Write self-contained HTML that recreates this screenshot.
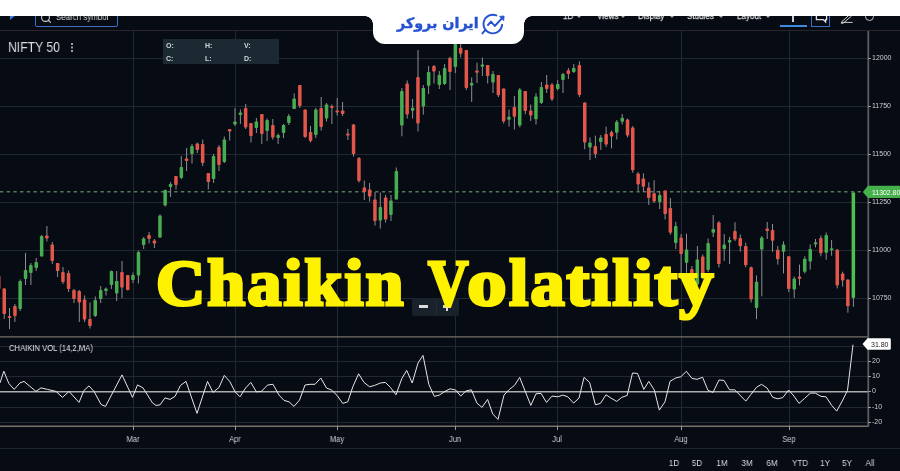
<!DOCTYPE html>
<html lang="en">
<head>
<meta charset="utf-8">
<title>Chaikin Volatility</title>
<style>
html,body{margin:0;padding:0;}
body{width:900px;height:471px;overflow:hidden;background:#070b14;position:relative;font-family:"Liberation Sans",sans-serif;color:#d6d6d6;}
.chart{position:absolute;left:0;top:0;display:block;}
.abs{position:absolute;white-space:nowrap;}
.ax,.mon,.rng,.sym,.tb,.ohlc,.gs,.logo{will-change:transform;}
.topwhite{position:absolute;left:0;top:0;width:900px;height:16px;background:#fff;}
.toolbar{position:absolute;left:0;top:16px;width:900px;height:13.6px;border-bottom:1px solid #2a2529;overflow:hidden;}
.tab{position:absolute;left:373px;top:0;width:150.6px;height:44px;background:#fff;border-radius:0 0 12px 12px;}
.tabc{position:absolute;top:16px;width:8px;height:8px;background:radial-gradient(circle at var(--cx) 100%, #070b14 7.5px, #fff 8px);}
.logo{position:absolute;left:396.6px;top:12px;font-family:"DejaVu Sans","Liberation Sans",sans-serif;font-weight:bold;font-size:14.3px;color:#2552d0;-webkit-text-stroke:0.4px #2552d0;direction:rtl;line-height:22px;letter-spacing:0;}
.sym{left:8.2px;top:39px;font-size:14.3px;color:#dcdcdc;line-height:16px;transform:scaleX(0.853);transform-origin:0 0;}
.ohlc{position:absolute;left:163px;top:39px;width:116px;height:24.5px;background:#1a2932;}
.ohlc span{position:absolute;font-size:7px;font-weight:bold;color:#cfd6da;line-height:8px;}
.ax{font-size:7px;color:#cfcfcf;line-height:9px;left:871.8px;}
.mon{font-size:8.8px;color:#cfcfcf;line-height:10px;transform:translateX(-50%) scaleX(0.85);top:433.8px;}
.rng{font-size:9.3px;color:#d8d8d8;line-height:11px;transform:translateX(-50%) scaleX(0.86);top:457.6px;}
.ttl{position:absolute;left:158px;top:246.6px;font-family:"Liberation Serif",serif;font-weight:bold;font-size:65.5px;line-height:72px;color:#fff200;white-space:nowrap;-webkit-text-stroke:3.1px #fff200;letter-spacing:2px;transform-origin:0 0;}
.tb{position:absolute;font-size:9px;color:#dedede;line-height:10px;top:-5px;white-space:nowrap;}.tbs{font-size:9.4px;-webkit-text-stroke:0.25px #dedede;transform:scaleX(0.86);transform-origin:0 0;}.car{position:absolute;top:0.2px;width:0;height:0;border-left:2px solid transparent;border-right:2px solid transparent;border-top:2.4px solid #aaa;}
</style>
</head>
<body>
<svg class="chart" width="900" height="471" viewBox="0 0 900 471">
<g stroke="#1f2833" stroke-width="1" shape-rendering="crispEdges">
<line x1="0" y1="58.5" x2="868" y2="58.5"/>
<line x1="0" y1="106.5" x2="868" y2="106.5"/>
<line x1="0" y1="154.5" x2="868" y2="154.5"/>
<line x1="0" y1="202.5" x2="868" y2="202.5"/>
<line x1="0" y1="250.5" x2="868" y2="250.5"/>
<line x1="0" y1="298.5" x2="868" y2="298.5"/>
<line x1="133.5" y1="30" x2="133.5" y2="427"/>
<line x1="235.5" y1="30" x2="235.5" y2="427"/>
<line x1="337.5" y1="30" x2="337.5" y2="427"/>
<line x1="455.5" y1="30" x2="455.5" y2="427"/>
<line x1="557.5" y1="30" x2="557.5" y2="427"/>
<line x1="681.5" y1="30" x2="681.5" y2="427"/>
<line x1="789.5" y1="30" x2="789.5" y2="427"/>
<line x1="0" y1="346.5" x2="868" y2="346.5"/>
<line x1="0" y1="361.5" x2="868" y2="361.5"/>
<line x1="0" y1="376.5" x2="868" y2="376.5"/>
<line x1="0" y1="407.5" x2="868" y2="407.5"/>
<line x1="0" y1="422.5" x2="868" y2="422.5"/>
</g>
<line x1="0" y1="191.7" x2="864" y2="191.7" stroke="#547a58" stroke-width="1.6" stroke-dasharray="3.3 3.4"/>
<g stroke="#8e8e8e" stroke-width="1">
<line x1="-1.2" y1="276" x2="-1.2" y2="289"/>
<line x1="4.2" y1="288" x2="4.2" y2="319"/>
<line x1="9.5" y1="308" x2="9.5" y2="329"/>
<line x1="14.9" y1="304" x2="14.9" y2="322"/>
<line x1="20.2" y1="279.5" x2="20.2" y2="311"/>
<line x1="25.5" y1="253" x2="25.5" y2="285"/>
<line x1="30.9" y1="263" x2="30.9" y2="285"/>
<line x1="36.2" y1="258" x2="36.2" y2="271"/>
<line x1="41.6" y1="235" x2="41.6" y2="256.5"/>
<line x1="46.9" y1="226" x2="46.9" y2="241.5"/>
<line x1="52.3" y1="242" x2="52.3" y2="264"/>
<line x1="57.6" y1="263" x2="57.6" y2="277"/>
<line x1="63" y1="267" x2="63" y2="284"/>
<line x1="68.6" y1="270.5" x2="68.6" y2="292"/>
<line x1="74" y1="289" x2="74" y2="303"/>
<line x1="79.3" y1="290" x2="79.3" y2="322"/>
<line x1="84.6" y1="295.5" x2="84.6" y2="322"/>
<line x1="90" y1="302.5" x2="90" y2="328.5"/>
<line x1="95.3" y1="296.5" x2="95.3" y2="317"/>
<line x1="100.7" y1="286" x2="100.7" y2="303"/>
<line x1="106" y1="287.5" x2="106" y2="295.5"/>
<line x1="111.4" y1="270.5" x2="111.4" y2="289"/>
<line x1="116.7" y1="271" x2="116.7" y2="301"/>
<line x1="122" y1="261" x2="122" y2="298"/>
<line x1="127.7" y1="275" x2="127.7" y2="290.5"/>
<line x1="133" y1="272.5" x2="133" y2="283"/>
<line x1="138.4" y1="250.5" x2="138.4" y2="283.5"/>
<line x1="143.7" y1="237" x2="143.7" y2="249"/>
<line x1="149.1" y1="232" x2="149.1" y2="243.5"/>
<line x1="154.4" y1="239" x2="154.4" y2="248"/>
<line x1="160" y1="214.5" x2="160" y2="238"/>
<line x1="165.2" y1="189.5" x2="165.2" y2="206.5"/>
<line x1="170.6" y1="182" x2="170.6" y2="197"/>
<line x1="176" y1="176" x2="176" y2="189.5"/>
<line x1="181.3" y1="156" x2="181.3" y2="179"/>
<line x1="186.6" y1="148" x2="186.6" y2="171"/>
<line x1="192" y1="144" x2="192" y2="163.5"/>
<line x1="197.3" y1="142.5" x2="197.3" y2="153"/>
<line x1="202.7" y1="139.5" x2="202.7" y2="166"/>
<line x1="208.3" y1="173" x2="208.3" y2="189.5"/>
<line x1="213.6" y1="154" x2="213.6" y2="183"/>
<line x1="219" y1="145" x2="219" y2="171"/>
<line x1="224.3" y1="136.5" x2="224.3" y2="163"/>
<line x1="229.7" y1="129" x2="229.7" y2="140.5"/>
<line x1="235" y1="108" x2="235" y2="126"/>
<line x1="240.4" y1="109.5" x2="240.4" y2="124"/>
<line x1="245.7" y1="104" x2="245.7" y2="129"/>
<line x1="251" y1="123" x2="251" y2="142.5"/>
<line x1="256.4" y1="118" x2="256.4" y2="133"/>
<line x1="261.8" y1="114" x2="261.8" y2="144"/>
<line x1="267.1" y1="118.5" x2="267.1" y2="141"/>
<line x1="272.8" y1="119" x2="272.8" y2="139.5"/>
<line x1="278.1" y1="133.5" x2="278.1" y2="144"/>
<line x1="283.5" y1="124" x2="283.5" y2="138"/>
<line x1="288.8" y1="114" x2="288.8" y2="125"/>
<line x1="294.2" y1="93.5" x2="294.2" y2="109"/>
<line x1="299.8" y1="85" x2="299.8" y2="108"/>
<line x1="305.1" y1="109.5" x2="305.1" y2="138"/>
<line x1="310.5" y1="126" x2="310.5" y2="142.5"/>
<line x1="315.8" y1="108" x2="315.8" y2="138"/>
<line x1="321.2" y1="97" x2="321.2" y2="130.5"/>
<line x1="326.5" y1="103" x2="326.5" y2="121.5"/>
<line x1="331.9" y1="104.5" x2="331.9" y2="124"/>
<line x1="337.2" y1="98" x2="337.2" y2="115.5"/>
<line x1="342.6" y1="102" x2="342.6" y2="116"/>
<line x1="347.9" y1="129" x2="347.9" y2="140"/>
<line x1="353.5" y1="124" x2="353.5" y2="156.5"/>
<line x1="359" y1="157" x2="359" y2="182.5"/>
<line x1="364.3" y1="180.5" x2="364.3" y2="200"/>
<line x1="369.6" y1="183" x2="369.6" y2="201.5"/>
<line x1="375" y1="192" x2="375" y2="225.5"/>
<line x1="380.3" y1="192.5" x2="380.3" y2="228.5"/>
<line x1="385.6" y1="195" x2="385.6" y2="222.5"/>
<line x1="391" y1="195" x2="391" y2="221"/>
<line x1="396.3" y1="167.5" x2="396.3" y2="199.5"/>
<line x1="401.9" y1="88" x2="401.9" y2="136.3"/>
<line x1="407.2" y1="80.5" x2="407.2" y2="118.5"/>
<line x1="412.6" y1="99" x2="412.6" y2="118.5"/>
<line x1="418" y1="50" x2="418" y2="131.5"/>
<line x1="423.3" y1="85" x2="423.3" y2="114.6"/>
<line x1="428.6" y1="66" x2="428.6" y2="94"/>
<line x1="434" y1="65" x2="434" y2="83.5"/>
<line x1="439.3" y1="71" x2="439.3" y2="89"/>
<line x1="444.6" y1="64" x2="444.6" y2="85"/>
<line x1="450" y1="56.7" x2="450" y2="90"/>
<line x1="455.3" y1="44" x2="455.3" y2="73"/>
<line x1="460.7" y1="44" x2="460.7" y2="57.3"/>
<line x1="466.3" y1="50" x2="466.3" y2="90"/>
<line x1="471.7" y1="77.5" x2="471.7" y2="102"/>
<line x1="477" y1="62.7" x2="477" y2="83"/>
<line x1="482.4" y1="57.6" x2="482.4" y2="76"/>
<line x1="487.7" y1="65" x2="487.7" y2="83.5"/>
<line x1="493" y1="71" x2="493" y2="93"/>
<line x1="498.4" y1="75" x2="498.4" y2="97"/>
<line x1="503.7" y1="88.5" x2="503.7" y2="123.5"/>
<line x1="509" y1="109.6" x2="509" y2="126.5"/>
<line x1="514.4" y1="96" x2="514.4" y2="129.5"/>
<line x1="519.8" y1="88" x2="519.8" y2="127.4"/>
<line x1="525.3" y1="91" x2="525.3" y2="114.3"/>
<line x1="530.7" y1="104.5" x2="530.7" y2="121"/>
<line x1="536" y1="93.2" x2="536" y2="124.5"/>
<line x1="541.4" y1="82" x2="541.4" y2="104"/>
<line x1="546.7" y1="75" x2="546.7" y2="93"/>
<line x1="552" y1="83" x2="552" y2="101"/>
<line x1="557.7" y1="80" x2="557.7" y2="90.5"/>
<line x1="563" y1="73" x2="563" y2="93"/>
<line x1="568.4" y1="68" x2="568.4" y2="79"/>
<line x1="573.8" y1="64" x2="573.8" y2="73"/>
<line x1="579.4" y1="61.4" x2="579.4" y2="97"/>
<line x1="584.7" y1="102.4" x2="584.7" y2="149.3"/>
<line x1="590" y1="137.4" x2="590" y2="160"/>
<line x1="595.4" y1="135.6" x2="595.4" y2="158"/>
<line x1="600.8" y1="135" x2="600.8" y2="150"/>
<line x1="606.1" y1="126.7" x2="606.1" y2="147"/>
<line x1="611.5" y1="130.6" x2="611.5" y2="148.4"/>
<line x1="616.8" y1="120" x2="616.8" y2="139.5"/>
<line x1="622.2" y1="114" x2="622.2" y2="124.6"/>
<line x1="627.5" y1="118.7" x2="627.5" y2="137.4"/>
<line x1="632.8" y1="126" x2="632.8" y2="172.8"/>
<line x1="638.1" y1="172" x2="638.1" y2="191"/>
<line x1="643.4" y1="173.4" x2="643.4" y2="192"/>
<line x1="648.8" y1="182.3" x2="648.8" y2="205"/>
<line x1="654.1" y1="180.2" x2="654.1" y2="203"/>
<line x1="659.7" y1="191" x2="659.7" y2="209"/>
<line x1="665.1" y1="190.6" x2="665.1" y2="219.4"/>
<line x1="670.4" y1="198" x2="670.4" y2="234.8"/>
<line x1="675.8" y1="221.8" x2="675.8" y2="249"/>
<line x1="681.1" y1="234" x2="681.1" y2="279"/>
<line x1="686.5" y1="233.7" x2="686.5" y2="272.8"/>
<line x1="691.9" y1="266" x2="691.9" y2="290"/>
<line x1="697.4" y1="246" x2="697.4" y2="285.5"/>
<line x1="702.8" y1="254.5" x2="702.8" y2="279"/>
<line x1="708.1" y1="238.6" x2="708.1" y2="272"/>
<line x1="713.2" y1="215" x2="713.2" y2="237"/>
<line x1="718.9" y1="221" x2="718.9" y2="267.5"/>
<line x1="724.2" y1="234" x2="724.2" y2="261"/>
<line x1="729.6" y1="236.8" x2="729.6" y2="264"/>
<line x1="735" y1="222.2" x2="735" y2="241.2"/>
<line x1="740.3" y1="234.5" x2="740.3" y2="251.6"/>
<line x1="745.7" y1="242.8" x2="745.7" y2="267.3"/>
<line x1="751.1" y1="266.4" x2="751.1" y2="302.6"/>
<line x1="756.5" y1="275.5" x2="756.5" y2="319.2"/>
<line x1="761.8" y1="236" x2="761.8" y2="296.4"/>
<line x1="767.2" y1="222" x2="767.2" y2="239"/>
<line x1="772.5" y1="224" x2="772.5" y2="251.8"/>
<line x1="777.8" y1="245.9" x2="777.8" y2="264.6"/>
<line x1="783.5" y1="241.4" x2="783.5" y2="273.5"/>
<line x1="788.8" y1="256.3" x2="788.8" y2="292"/>
<line x1="794.2" y1="276.5" x2="794.2" y2="297.9"/>
<line x1="799.5" y1="264.6" x2="799.5" y2="285.4"/>
<line x1="804.8" y1="256.3" x2="804.8" y2="273.5"/>
<line x1="810.2" y1="244.4" x2="810.2" y2="269.6"/>
<line x1="815.5" y1="239" x2="815.5" y2="247.4"/>
<line x1="820.9" y1="235.5" x2="820.9" y2="256.3"/>
<line x1="826.2" y1="232.5" x2="826.2" y2="259.8"/>
<line x1="831.6" y1="240" x2="831.6" y2="255.7"/>
<line x1="837.2" y1="248.9" x2="837.2" y2="288.4"/>
<line x1="842.6" y1="271.7" x2="842.6" y2="286.6"/>
<line x1="847.9" y1="279.4" x2="847.9" y2="312.7"/>
<line x1="853.4" y1="192.4" x2="853.4" y2="306.8"/>
</g>
<g fill="#e3574b">
<rect x="-3" y="276" width="3.5" height="13" rx="0.8"/>
<rect x="2.5" y="288.5" width="3.5" height="25.5" rx="0.8"/>
<rect x="7.8" y="316" width="3.5" height="2" rx="0.8"/>
<rect x="13.2" y="306" width="3.5" height="10" rx="0.8"/>
<rect x="45.1" y="235.5" width="3.5" height="3" rx="0.8"/>
<rect x="50.5" y="244.5" width="3.5" height="16.5" rx="0.8"/>
<rect x="55.9" y="263" width="3.5" height="8" rx="0.8"/>
<rect x="61.2" y="272" width="3.5" height="10" rx="0.8"/>
<rect x="66.8" y="273" width="3.5" height="16" rx="0.8"/>
<rect x="72.2" y="290" width="3.5" height="9" rx="0.8"/>
<rect x="77.5" y="291" width="3.5" height="11.5" rx="0.8"/>
<rect x="82.8" y="299.5" width="3.5" height="20" rx="0.8"/>
<rect x="88.2" y="319" width="3.5" height="7" rx="0.8"/>
<rect x="120.2" y="272" width="3.5" height="15.5" rx="0.8"/>
<rect x="126" y="275" width="3.5" height="15" rx="0.8"/>
<rect x="147.3" y="235" width="3.5" height="4" rx="0.8"/>
<rect x="152.7" y="240.5" width="3.5" height="3" rx="0.8"/>
<rect x="174.2" y="176" width="3.5" height="9" rx="0.8"/>
<rect x="184.8" y="158.5" width="3.5" height="2.5" rx="0.8"/>
<rect x="195.6" y="143.5" width="3.5" height="6.5" rx="0.8"/>
<rect x="200.9" y="144" width="3.5" height="19" rx="0.8"/>
<rect x="206.6" y="173" width="3.5" height="9" rx="0.8"/>
<rect x="217.2" y="147" width="3.5" height="18" rx="0.8"/>
<rect x="227.9" y="129" width="3.5" height="2.5" rx="0.8"/>
<rect x="243.9" y="108" width="3.5" height="19.5" rx="0.8"/>
<rect x="249.2" y="123" width="3.5" height="13" rx="0.8"/>
<rect x="260.1" y="114" width="3.5" height="20" rx="0.8"/>
<rect x="271.1" y="125" width="3.5" height="12.5" rx="0.8"/>
<rect x="298.1" y="85" width="3.5" height="21" rx="0.8"/>
<rect x="303.4" y="109.5" width="3.5" height="27.5" rx="0.8"/>
<rect x="308.8" y="132" width="3.5" height="9" rx="0.8"/>
<rect x="319.4" y="108" width="3.5" height="19" rx="0.8"/>
<rect x="330.1" y="106" width="3.5" height="2" rx="0.8"/>
<rect x="335.4" y="110.5" width="3.5" height="2" rx="0.8"/>
<rect x="340.9" y="110.5" width="3.5" height="3.5" rx="0.8"/>
<rect x="346.1" y="133.5" width="3.5" height="2" rx="0.8"/>
<rect x="351.8" y="124.5" width="3.5" height="29.5" rx="0.8"/>
<rect x="357.2" y="158" width="3.5" height="23" rx="0.8"/>
<rect x="362.6" y="187.5" width="3.5" height="4.5" rx="0.8"/>
<rect x="367.9" y="189.5" width="3.5" height="7" rx="0.8"/>
<rect x="373.2" y="199.5" width="3.5" height="21.5" rx="0.8"/>
<rect x="383.9" y="197.5" width="3.5" height="22" rx="0.8"/>
<rect x="405.4" y="83.5" width="3.5" height="31.1" rx="0.8"/>
<rect x="416.2" y="77" width="3.5" height="46.5" rx="0.8"/>
<rect x="432.2" y="66" width="3.5" height="5.6" rx="0.8"/>
<rect x="448.2" y="58" width="3.5" height="14" rx="0.8"/>
<rect x="458.9" y="47.8" width="3.5" height="6" rx="0.8"/>
<rect x="464.6" y="50" width="3.5" height="38" rx="0.8"/>
<rect x="475.2" y="70.4" width="3.5" height="2.4" rx="0.8"/>
<rect x="485.9" y="65" width="3.5" height="11" rx="0.8"/>
<rect x="496.6" y="75" width="3.5" height="20.3" rx="0.8"/>
<rect x="501.9" y="88.5" width="3.5" height="33" rx="0.8"/>
<rect x="512.6" y="107" width="3.5" height="9.7" rx="0.8"/>
<rect x="523.5" y="91" width="3.5" height="20" rx="0.8"/>
<rect x="529" y="110.5" width="3.5" height="5.1" rx="0.8"/>
<rect x="545" y="84.5" width="3.5" height="4.5" rx="0.8"/>
<rect x="550.2" y="84.5" width="3.5" height="14.9" rx="0.8"/>
<rect x="566.6" y="70.3" width="3.5" height="3.7" rx="0.8"/>
<rect x="577.6" y="65" width="3.5" height="30" rx="0.8"/>
<rect x="583" y="102.4" width="3.5" height="40.1" rx="0.8"/>
<rect x="593.6" y="146" width="3.5" height="8" rx="0.8"/>
<rect x="604.4" y="134" width="3.5" height="10.5" rx="0.8"/>
<rect x="609.8" y="132" width="3.5" height="4.5" rx="0.8"/>
<rect x="625.8" y="119.6" width="3.5" height="16" rx="0.8"/>
<rect x="631" y="127.6" width="3.5" height="42.6" rx="0.8"/>
<rect x="636.4" y="173.4" width="3.5" height="11" rx="0.8"/>
<rect x="641.6" y="178.4" width="3.5" height="8.3" rx="0.8"/>
<rect x="647" y="187.6" width="3.5" height="10.4" rx="0.8"/>
<rect x="652.4" y="193.3" width="3.5" height="8.3" rx="0.8"/>
<rect x="663.4" y="190.6" width="3.5" height="23.4" rx="0.8"/>
<rect x="668.6" y="208" width="3.5" height="24.8" rx="0.8"/>
<rect x="679.4" y="237.6" width="3.5" height="16.4" rx="0.8"/>
<rect x="690.1" y="269" width="3.5" height="17" rx="0.8"/>
<rect x="701" y="256.5" width="3.5" height="21" rx="0.8"/>
<rect x="717.1" y="222.4" width="3.5" height="41.6" rx="0.8"/>
<rect x="733.2" y="231" width="3.5" height="8.5" rx="0.8"/>
<rect x="738.5" y="237.9" width="3.5" height="8.4" rx="0.8"/>
<rect x="744" y="246" width="3.5" height="19.3" rx="0.8"/>
<rect x="749.4" y="267.3" width="3.5" height="32.1" rx="0.8"/>
<rect x="765.5" y="228.5" width="3.5" height="2.5" rx="0.8"/>
<rect x="770.8" y="230" width="3.5" height="10.8" rx="0.8"/>
<rect x="776" y="249.7" width="3.5" height="9.5" rx="0.8"/>
<rect x="787" y="256.3" width="3.5" height="32.7" rx="0.8"/>
<rect x="797.8" y="276.5" width="3.5" height="2.4" rx="0.8"/>
<rect x="819.1" y="237.9" width="3.5" height="15.4" rx="0.8"/>
<rect x="835.5" y="249.7" width="3.5" height="35.7" rx="0.8"/>
<rect x="840.9" y="273.5" width="3.5" height="7.1" rx="0.8"/>
<rect x="846.1" y="279.4" width="3.5" height="26.8" rx="0.8"/>
</g>
<g fill="#48ad52">
<rect x="18.4" y="281" width="3.5" height="28" rx="0.8"/>
<rect x="23.8" y="270" width="3.5" height="9" rx="0.8"/>
<rect x="29.1" y="265" width="3.5" height="8" rx="0.8"/>
<rect x="34.5" y="262" width="3.5" height="6" rx="0.8"/>
<rect x="39.9" y="236" width="3.5" height="20.5" rx="0.8"/>
<rect x="93.5" y="300" width="3.5" height="16" rx="0.8"/>
<rect x="99" y="290" width="3.5" height="9" rx="0.8"/>
<rect x="104.2" y="288.5" width="3.5" height="2.5" rx="0.8"/>
<rect x="109.7" y="271" width="3.5" height="14" rx="0.8"/>
<rect x="115" y="281" width="3.5" height="12.5" rx="0.8"/>
<rect x="131.2" y="275" width="3.5" height="5" rx="0.8"/>
<rect x="136.7" y="252" width="3.5" height="23.5" rx="0.8"/>
<rect x="141.9" y="238.5" width="3.5" height="6.5" rx="0.8"/>
<rect x="158.2" y="215.5" width="3.5" height="22" rx="0.8"/>
<rect x="163.4" y="190" width="3.5" height="15.5" rx="0.8"/>
<rect x="168.8" y="184" width="3.5" height="3" rx="0.8"/>
<rect x="179.6" y="167" width="3.5" height="11" rx="0.8"/>
<rect x="190.2" y="146" width="3.5" height="8" rx="0.8"/>
<rect x="211.8" y="156" width="3.5" height="23" rx="0.8"/>
<rect x="222.6" y="139.5" width="3.5" height="22.5" rx="0.8"/>
<rect x="233.2" y="121.5" width="3.5" height="3" rx="0.8"/>
<rect x="238.7" y="112.5" width="3.5" height="2.5" rx="0.8"/>
<rect x="254.6" y="121.5" width="3.5" height="6.5" rx="0.8"/>
<rect x="265.4" y="120" width="3.5" height="11" rx="0.8"/>
<rect x="276.4" y="135" width="3.5" height="3" rx="0.8"/>
<rect x="281.8" y="125" width="3.5" height="8" rx="0.8"/>
<rect x="287.1" y="116" width="3.5" height="7" rx="0.8"/>
<rect x="292.4" y="98.5" width="3.5" height="10.5" rx="0.8"/>
<rect x="314.1" y="109.5" width="3.5" height="25.5" rx="0.8"/>
<rect x="324.8" y="104.5" width="3.5" height="14" rx="0.8"/>
<rect x="378.6" y="207" width="3.5" height="13.5" rx="0.8"/>
<rect x="389.2" y="200.5" width="3.5" height="14.5" rx="0.8"/>
<rect x="394.6" y="171" width="3.5" height="28.5" rx="0.8"/>
<rect x="400.1" y="91" width="3.5" height="34.6" rx="0.8"/>
<rect x="410.9" y="107.8" width="3.5" height="3" rx="0.8"/>
<rect x="421.6" y="88" width="3.5" height="18.6" rx="0.8"/>
<rect x="426.9" y="72" width="3.5" height="13.8" rx="0.8"/>
<rect x="437.6" y="75" width="3.5" height="10" rx="0.8"/>
<rect x="442.9" y="68" width="3.5" height="16" rx="0.8"/>
<rect x="453.6" y="44" width="3.5" height="23" rx="0.8"/>
<rect x="469.9" y="83" width="3.5" height="2.5" rx="0.8"/>
<rect x="480.6" y="64.5" width="3.5" height="2.3" rx="0.8"/>
<rect x="491.2" y="74" width="3.5" height="8.6" rx="0.8"/>
<rect x="507.2" y="116.7" width="3.5" height="3" rx="0.8"/>
<rect x="518" y="89.4" width="3.5" height="36.2" rx="0.8"/>
<rect x="534.2" y="96.6" width="3.5" height="22.7" rx="0.8"/>
<rect x="539.6" y="87" width="3.5" height="16" rx="0.8"/>
<rect x="556" y="84" width="3.5" height="5" rx="0.8"/>
<rect x="561.2" y="74" width="3.5" height="6" rx="0.8"/>
<rect x="572" y="68" width="3.5" height="4" rx="0.8"/>
<rect x="588.2" y="142.5" width="3.5" height="5" rx="0.8"/>
<rect x="599" y="137.4" width="3.5" height="4.6" rx="0.8"/>
<rect x="615" y="121.7" width="3.5" height="11" rx="0.8"/>
<rect x="620.5" y="117.8" width="3.5" height="3.9" rx="0.8"/>
<rect x="658" y="195" width="3.5" height="7" rx="0.8"/>
<rect x="674" y="226" width="3.5" height="17" rx="0.8"/>
<rect x="684.8" y="249.6" width="3.5" height="13.2" rx="0.8"/>
<rect x="695.6" y="259.4" width="3.5" height="25.1" rx="0.8"/>
<rect x="706.4" y="243" width="3.5" height="27" rx="0.8"/>
<rect x="711.5" y="229" width="3.5" height="3.8" rx="0.8"/>
<rect x="722.5" y="244.6" width="3.5" height="4.4" rx="0.8"/>
<rect x="727.9" y="240" width="3.5" height="2.5" rx="0.8"/>
<rect x="754.8" y="281.8" width="3.5" height="26.2" rx="0.8"/>
<rect x="760" y="237.5" width="3.5" height="12" rx="0.8"/>
<rect x="781.8" y="244.4" width="3.5" height="7.4" rx="0.8"/>
<rect x="792.5" y="278.6" width="3.5" height="10.9" rx="0.8"/>
<rect x="803" y="258.7" width="3.5" height="13" rx="0.8"/>
<rect x="808.5" y="248.9" width="3.5" height="12.7" rx="0.8"/>
<rect x="813.8" y="242.3" width="3.5" height="2.1" rx="0.8"/>
<rect x="824.5" y="234.9" width="3.5" height="17.8" rx="0.8"/>
<rect x="829.9" y="248.3" width="3.5" height="2" rx="0.8"/>
</g>
<g fill="#4fbe55">
<rect x="851.6" y="192.4" width="3.5" height="105.5" rx="0.8"/>
</g>
<line x1="0" y1="448.5" x2="900" y2="448.5" stroke="#20262e" stroke-width="1"/>
<g stroke="#777168" stroke-width="1.4"><line x1="0" y1="336.9" x2="868" y2="336.9"/><line x1="0" y1="426.3" x2="868" y2="426.3"/></g>
<line x1="0" y1="391.7" x2="868" y2="391.7" stroke="#adadad" stroke-width="1.5"/>
<polyline points="0,382.9 3.8,371.2 8.8,383.4 14.2,389.4 20,382.9 24,381.4 30,386.4 36,391.4 41,387.9 47.5,389.4 56,391.4 62.5,397.4 69,391.4 79,402.4 84,390.4 89,385.9 94,391.4 101,404.4 105.5,406.4 122,374.9 132.5,397.4 137.5,384.9 143,387.9 152.5,402.9 156,405.4 160,404.9 165,397.9 170,399.4 175,396.4 180.5,385.4 186,381.4 197,413.4 207.5,381.4 213,392.4 219,387.4 224.3,375.4 230,381.8 235,391.8 240,396.8 245.6,388 250.8,382.4 256.4,391.8 261.4,391.4 267.6,385 273,384.3 279,395.1 284,400.4 289,401.8 294,406.4 299.5,400.1 305,385 310,384.3 315,384.3 320.8,378 326.5,388 331.5,390 337,395.4 342.8,403.4 347.8,401.8 352.8,386.8 358.6,373.8 364,382.4 369.6,386.8 374.6,385.4 380.4,383 385.4,382.4 390.4,387.4 396,394.8 401.7,378.8 406.7,370.4 412.2,383 418,363 423,355.4 428.8,384.3 434.3,396.4 439.3,395.1 445,391.4 450,388.8 455.6,390 460.8,396.1 465.8,391 471.4,389.8 476.9,403.1 482,407.4 487.6,399.4 492.7,413.9 498,419.4 504,395.1 509.4,389.4 514.5,385.4 519.7,377.4 530.8,405.4 536,393.8 541,393.4 546.5,402.4 552,396.1 557.8,396.8 562.8,395.1 567.8,396.8 573.6,403.1 579,398.1 584,377.4 589.6,382.4 595.4,404.8 600.4,403.4 606,394.8 611,398.1 616.7,401.4 621.7,397.4 627.2,395.4 632.5,373 637.5,373.4 643.8,389.4 648.8,381.4 654.3,390 659.3,410.1 665,401.8 670,381.4 675.6,378 680.8,376.8 686.4,371.3 691.9,378.4 697,379.3 702.6,377.3 708,390.4 713,392.4 719,380 724,380.4 729.5,389.8 734.7,389.8 745.8,401.1 751,394.4 756.5,387.3 761.5,384.3 767,388 772.8,397.4 777.8,398.8 782.8,397.6 788.6,390 794,396.1 799,403.4 804.6,398.4 810.4,393.1 815.4,393.1 821,396.4 826,396.8 831.7,405.4 836.7,411.1 842.2,401.1 847.5,390.4 853,344.7" fill="none" stroke="#e6e6e6" stroke-width="1" stroke-linejoin="round"/>
<line x1="868.3" y1="30" x2="868.3" y2="427" stroke="#5e5e5e" stroke-width="1.8"/>
<g stroke="#9a9a9a" stroke-width="1">
<line x1="868" y1="58.5" x2="871" y2="58.5"/>
<line x1="868" y1="106.5" x2="871" y2="106.5"/>
<line x1="868" y1="154.5" x2="871" y2="154.5"/>
<line x1="868" y1="202.5" x2="871" y2="202.5"/>
<line x1="868" y1="250.5" x2="871" y2="250.5"/>
<line x1="868" y1="298.5" x2="871" y2="298.5"/>
<line x1="868" y1="361.5" x2="871" y2="361.5"/>
<line x1="868" y1="376.5" x2="871" y2="376.5"/>
<line x1="868" y1="391.5" x2="871" y2="391.5"/>
<line x1="868" y1="407.5" x2="871" y2="407.5"/>
<line x1="868" y1="422.5" x2="871" y2="422.5"/>
<line x1="133.5" y1="426" x2="133.5" y2="430"/>
<line x1="235.5" y1="426" x2="235.5" y2="430"/>
<line x1="337.5" y1="426" x2="337.5" y2="430"/>
<line x1="455.5" y1="426" x2="455.5" y2="430"/>
<line x1="557.5" y1="426" x2="557.5" y2="430"/>
<line x1="681.5" y1="426" x2="681.5" y2="430"/>
<line x1="789.5" y1="426" x2="789.5" y2="430"/>
</g>
</svg>
<div class="toolbar">
  <div style="position:absolute;left:35px;top:-8px;width:81px;height:17px;border:1px solid #3f6fc4;border-radius:2px;"></div>
  <div style="position:absolute;left:10px;top:-6px;width:0;height:0;border-left:6px solid #3b7be0;border-top:5.5px solid transparent;border-bottom:5.5px solid transparent;"></div>
  <svg style="position:absolute;left:40px;top:-3.6px" width="12" height="12" viewBox="0 0 12 12"><circle cx="5.5" cy="5.5" r="3.9" fill="none" stroke="#d0d0d0" stroke-width="1.1"/><path d="M8 8 L10.8 10.6" stroke="#d0d0d0" stroke-width="1.2"/></svg>
  <span class="tb" style="left:55.5px;top:-4px;transform:scaleX(0.88);transform-origin:0 0;">Search symbol</span>
  <span class="tb tbs" style="left:563.4px;">1D</span><i class="car" style="left:577.3px;"></i>
  <span class="tb tbs" style="left:596.5px;">Views</span><i class="car" style="left:621.3px;"></i>
  <span class="tb tbs" style="left:638px;">Display</span><i class="car" style="left:669.5px;"></i>
  <span class="tb tbs" style="left:687.4px;">Studies</span><i class="car" style="left:719px;"></i>
  <span class="tb tbs" style="left:737px;">Layout</span><i class="car" style="left:765.6px;"></i>
  <div style="position:absolute;left:780px;top:8.8px;width:26.6px;height:2.6px;background:#3d8be0;"></div>
  <div style="position:absolute;left:792.4px;top:-4px;width:1.2px;height:10px;background:#cfcfcf;"></div>
  <div style="position:absolute;left:811px;top:-6px;width:17px;height:14.7px;border:1px solid #3f6fc4;"></div>
  <svg style="position:absolute;left:814px;top:-6px" width="16" height="14" viewBox="0 0 16 14"><path d="M2.4 1 H12.6 V9.6 H11.6 V12 L9.2 9.6 H2.4 Z" fill="none" stroke="#e4e4e4" stroke-width="1.3"/></svg>
  <svg style="position:absolute;left:838px;top:-8px" width="18" height="16" viewBox="0 0 18 16"><path d="M3.8 13.6 L3.4 15.4 L5.4 15 L13.6 8 L12 6.4 Z" fill="none" stroke="#cfcfcf" stroke-width="1" stroke-linejoin="round"/><path d="M3.4 14.4 H14.6" stroke="#cfcfcf" stroke-width="1"/></svg>
  <div style="position:absolute;left:865.4px;top:-4px;width:9px;height:9px;border:1.2px solid #c4c4c4;border-radius:50%;box-sizing:border-box;"></div>
</div>
<div class="topwhite"></div>
<div class="tab"></div>
<div class="tabc" style="left:365px;--cx:0%;"></div>
<div class="tabc" style="left:523.6px;--cx:100%;"></div>
<div class="logo">ایران بروکر</div>
<svg class="abs" style="left:481px;top:13px" width="26" height="24" viewBox="-1 0 26 24">
  <path d="M14.3 2.4 A9.3 9.3 0 1 0 20.1 11.8" fill="none" stroke="#2552d0" stroke-width="1.9" stroke-linecap="round"/>
  <path d="M6 12 L9 8.6 L12.8 13 L19.6 5.6" fill="none" stroke="#2552d0" stroke-width="1.9" stroke-linecap="round" stroke-linejoin="round"/>
  <path d="M17.6 3.4 L22.1 3 L21.7 7.8 Z" fill="#2552d0" stroke="#2552d0" stroke-width="0.8" stroke-linejoin="round"/>
  <path d="M3.4 16.8 L0.4 20.4" fill="none" stroke="#2552d0" stroke-width="1.9" stroke-linecap="round"/>
</svg>

<div class="abs sym">NIFTY 50</div>
<div class="abs" style="left:71px;top:42.5px;width:2px;height:2px;background:#9c9c9c;box-shadow:0 3.5px 0 #9c9c9c,0 7px 0 #9c9c9c;"></div>
<div class="ohlc">
  <span style="left:3px;top:3px;">O:</span><span style="left:42px;top:3px;">H:</span><span style="left:81px;top:3px;">V:</span>
  <span style="left:3px;top:15.8px;">C:</span><span style="left:42px;top:15.8px;">L:</span><span style="left:81px;top:15.8px;">D:</span>
</div>

<div class="abs ax" style="top:53.4px;">12000</div>
<div class="abs ax" style="top:101.4px;">11750</div>
<div class="abs ax" style="top:149.4px;">11500</div>
<div class="abs ax" style="top:197.4px;">11250</div>
<div class="abs ax" style="top:245.4px;">11000</div>
<div class="abs ax" style="top:293.4px;">10750</div>
<div class="abs ax" style="top:356.4px;">20</div>
<div class="abs ax" style="top:371.4px;">10</div>
<div class="abs ax" style="top:386.4px;">0</div>
<div class="abs ax" style="top:402.0px;">-10</div>
<div class="abs ax" style="top:417.0px;">-20</div>

<svg class="abs" style="left:862px;top:185px" width="38" height="14" viewBox="0 0 38 14"><path d="M0.8 7 L6 0.8 L38 0.8 L38 13 L6 13 Z" fill="#46b04c"/></svg>
<div class="abs gs" style="left:871.8px;top:187.5px;font-size:6.9px;line-height:9px;color:#fff;">11302.80</div>
<svg class="abs" style="left:862px;top:338.1px" width="37" height="14" viewBox="0 0 37 14"><path d="M0.5 6 L5.5 0.3 L27.6 0.3 Q28.8 0.3 28.8 1.5 L28.8 10.6 Q28.8 11.8 27.6 11.8 L5.5 11.8 Z" fill="#fff"/></svg>
<div class="abs gs" style="left:871.4px;top:339.6px;font-size:7px;line-height:9px;color:#222;">31.80</div>

<div class="abs gs" style="left:8.8px;top:343px;font-size:9.8px;line-height:10px;color:#e2e6e8;transform:scaleX(0.78);transform-origin:0 0;">CHAIKIN VOL (14,2,MA)</div>

<div class="abs mon" style="left:133px;">Mar</div>
<div class="abs mon" style="left:235px;">Apr</div>
<div class="abs mon" style="left:337px;">May</div>
<div class="abs mon" style="left:455px;">Jun</div>
<div class="abs mon" style="left:557px;">Jul</div>
<div class="abs mon" style="left:681px;">Aug</div>
<div class="abs mon" style="left:789px;">Sep</div>

<div class="abs rng" style="left:673.5px;">1D</div>
<div class="abs rng" style="left:697px;">5D</div>
<div class="abs rng" style="left:722px;">1M</div>
<div class="abs rng" style="left:747px;">3M</div>
<div class="abs rng" style="left:772px;">6M</div>
<div class="abs rng" style="left:799.5px;">YTD</div>
<div class="abs rng" style="left:824.5px;">1Y</div>
<div class="abs rng" style="left:847px;">5Y</div>
<div class="abs rng" style="left:869.5px;">All</div>

<div class="abs" style="left:411.6px;top:298.4px;width:47px;height:17.4px;background:#19222b;border-radius:2px;"></div>
<div class="abs" style="left:436px;top:300px;width:1px;height:14px;background:#222c36;"></div>
<div class="abs" style="left:418.8px;top:305.3px;width:9.3px;height:2.6px;background:#dcdcdc;"></div>
<div class="abs" style="left:442.9px;top:305.4px;width:8px;height:2.3px;background:#dcdcdc;"></div>
<div class="abs" style="left:445.8px;top:302.4px;width:2.2px;height:8.6px;background:#dcdcdc;"></div>

<div class="ttl" id="w1" style="left:156.4px;transform:scaleX(1.041);">Chaikin</div>
<div class="ttl" id="w2" style="left:428px;transform:scaleX(1.042);"><span style="display:inline-block;transform:scaleX(0.82);transform-origin:0 50%;margin-right:-6px;">V</span><span style="display:inline-block;transform:scaleX(1.15);transform-origin:100% 50%;">o</span>latility</div>
</body>
</html>
